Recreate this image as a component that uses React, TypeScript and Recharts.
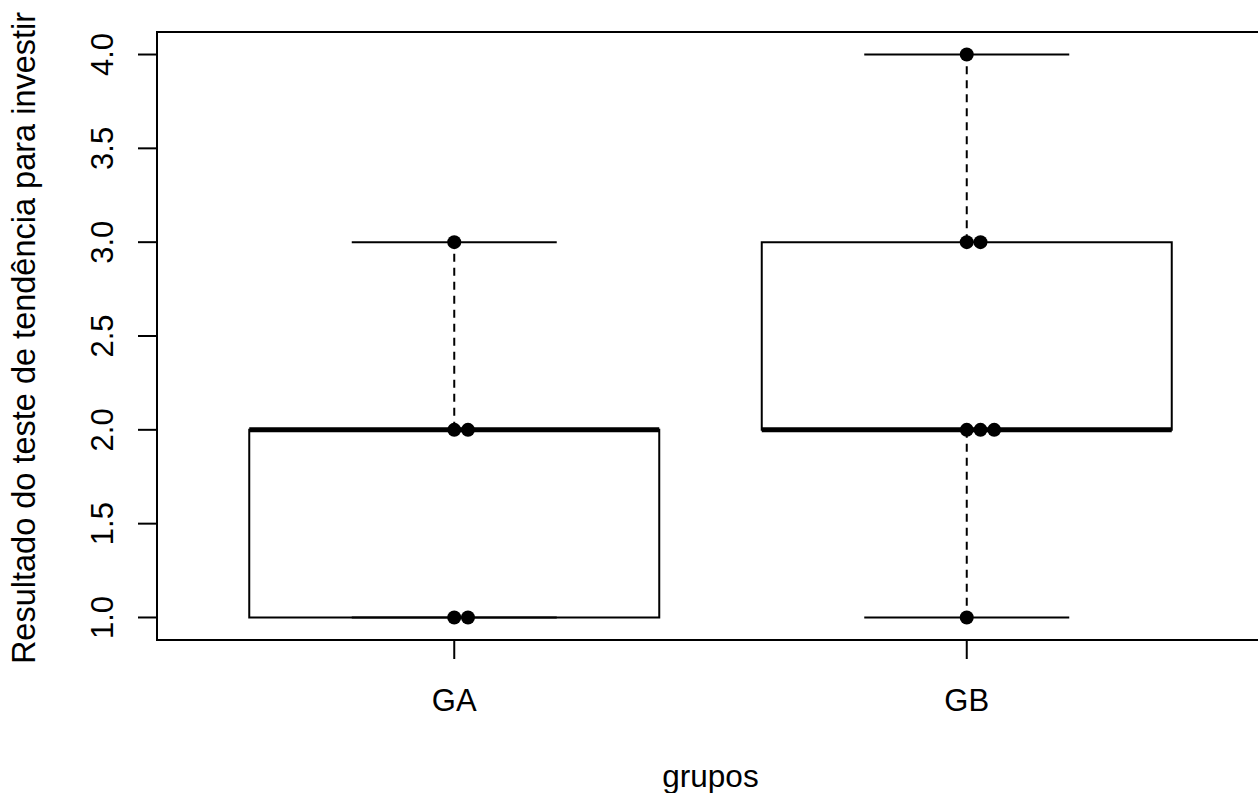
import React from 'react';
import {
  ScatterChart,
  Scatter,
  XAxis,
  YAxis,
  ReferenceArea,
  ReferenceLine,
} from 'recharts';

// ---- data ----
const groups = ['GA', 'GB'];
const groupValues = [
  [1, 1, 2, 2, 3],
  [1, 2, 2, 2, 3, 3, 4],
];
const boxMin = [1, 1];
const boxQ1 = [1, 2];
const boxMedian = [2, 2];
const boxQ3 = [2, 3];
const boxMax = [3, 4];
const yTicks = [1, 1.5, 2, 2.5, 3, 3.5, 4];
const xTitle = 'grupos';
const yTitle = 'Resultado do teste de tendência para investir';

// ---- layout ----
const W = 1264;
const H = 793;
const FONT = '"Liberation Sans", Arial, sans-serif';
const STACK = 0.0268;
const BOX_HALF = 0.4;
const STAPLE_HALF = 0.2;
const X_DOMAIN: [number, number] = [0.42, 2.58];
const Y_DOMAIN: [number, number] = [0.88, 4.12];

// stacked points (like R stripchart method="stack")
const points: { x: number; y: number }[] = [];
groupValues.forEach((vals, gi) => {
  const counts: Record<string, number> = {};
  vals.forEach((v) => {
    const k = String(v);
    const c = counts[k] ?? 0;
    counts[k] = c + 1;
    points.push({ x: gi + 1 + c * STACK, y: v });
  });
});

const XTick = (props: any) => {
  const { x, payload } = props;
  return (
    <text x={x} y={711} textAnchor="middle" fontFamily={FONT} fontSize={31} fill="#000">
      {groups[payload.value - 1]}
    </text>
  );
};

const YTick = (props: any) => {
  const { y, payload } = props;
  const bx = 113;
  return (
    <text
      x={bx}
      y={y}
      transform={`rotate(-90, ${bx}, ${y})`}
      textAnchor="middle"
      fontFamily={FONT}
      fontSize={31}
      fill="#000"
    >
      {Number(payload.value).toFixed(1)}
    </text>
  );
};

const Dot = (props: any) => <circle cx={props.cx} cy={props.cy} r={7} fill="#000" />;

export default function App() {
  return (
    <div
      style={{
        position: 'absolute',
        left: 0,
        top: 0,
        width: 1258,
        height: 793,
        overflow: 'hidden',
        background: '#fff',
      }}
    >
      <ScatterChart
        width={W}
        height={H}
        margin={{ top: 32, right: 0, bottom: 0, left: 0 }}
      >
        <XAxis
          type="number"
          dataKey="x"
          domain={X_DOMAIN}
          allowDataOverflow
          ticks={[1, 2]}
          tick={<XTick />}
          tickSize={19}
          tickLine={{ stroke: '#000', strokeWidth: 2 }}
          axisLine={false}
          height={153}
        />
        <YAxis
          type="number"
          dataKey="y"
          domain={Y_DOMAIN}
          allowDataOverflow
          ticks={yTicks}
          tick={<YTick />}
          tickSize={19}
          tickLine={{ stroke: '#000', strokeWidth: 2 }}
          axisLine={false}
          width={157}
        />
        {/* plot border */}
        <ReferenceArea
          x1={X_DOMAIN[0]}
          x2={X_DOMAIN[1]}
          y1={Y_DOMAIN[0]}
          y2={Y_DOMAIN[1]}
          fill="none"
          fillOpacity={0}
          stroke="#000"
          strokeWidth={2}
        />
        {groups.map((g, i) => {
          const c = i + 1;
          return (
            <React.Fragment key={g}>
              <ReferenceArea
                x1={c - BOX_HALF}
                x2={c + BOX_HALF}
                y1={boxQ1[i]}
                y2={boxQ3[i]}
                fill="none"
                fillOpacity={0}
                stroke="#000"
                strokeWidth={2}
              />
              {boxMax[i] > boxQ3[i] && (
                <ReferenceLine
                  segment={[{ x: c, y: boxQ3[i] }, { x: c, y: boxMax[i] }]}
                  stroke="#000"
                  strokeWidth={2}
                  strokeDasharray="8 6"
                />
              )}
              {boxMin[i] < boxQ1[i] && (
                <ReferenceLine
                  segment={[{ x: c, y: boxQ1[i] }, { x: c, y: boxMin[i] }]}
                  stroke="#000"
                  strokeWidth={2}
                  strokeDasharray="8 6"
                />
              )}
              <ReferenceLine
                segment={[{ x: c - STAPLE_HALF, y: boxMax[i] }, { x: c + STAPLE_HALF, y: boxMax[i] }]}
                stroke="#000"
                strokeWidth={2}
              />
              <ReferenceLine
                segment={[{ x: c - STAPLE_HALF, y: boxMin[i] }, { x: c + STAPLE_HALF, y: boxMin[i] }]}
                stroke="#000"
                strokeWidth={2}
              />
              <ReferenceLine
                segment={[{ x: c - BOX_HALF, y: boxMedian[i] }, { x: c + BOX_HALF, y: boxMedian[i] }]}
                stroke="#000"
                strokeWidth={5}
              />
            </React.Fragment>
          );
        })}
        <Scatter data={points} shape={<Dot />} isAnimationActive={false} />
        <text
          x={(157 + W) / 2}
          y={787}
          textAnchor="middle"
          fontFamily={FONT}
          fontSize={31.5}
          fill="#000"
        >
          {xTitle}
        </text>
        <text
          x={35}
          y={338}
          transform="rotate(-90, 35, 338)"
          textAnchor="middle"
          fontFamily={FONT}
          fontSize={32.5}
          fill="#000"
        >
          {yTitle}
        </text>
      </ScatterChart>
    </div>
  );
}
